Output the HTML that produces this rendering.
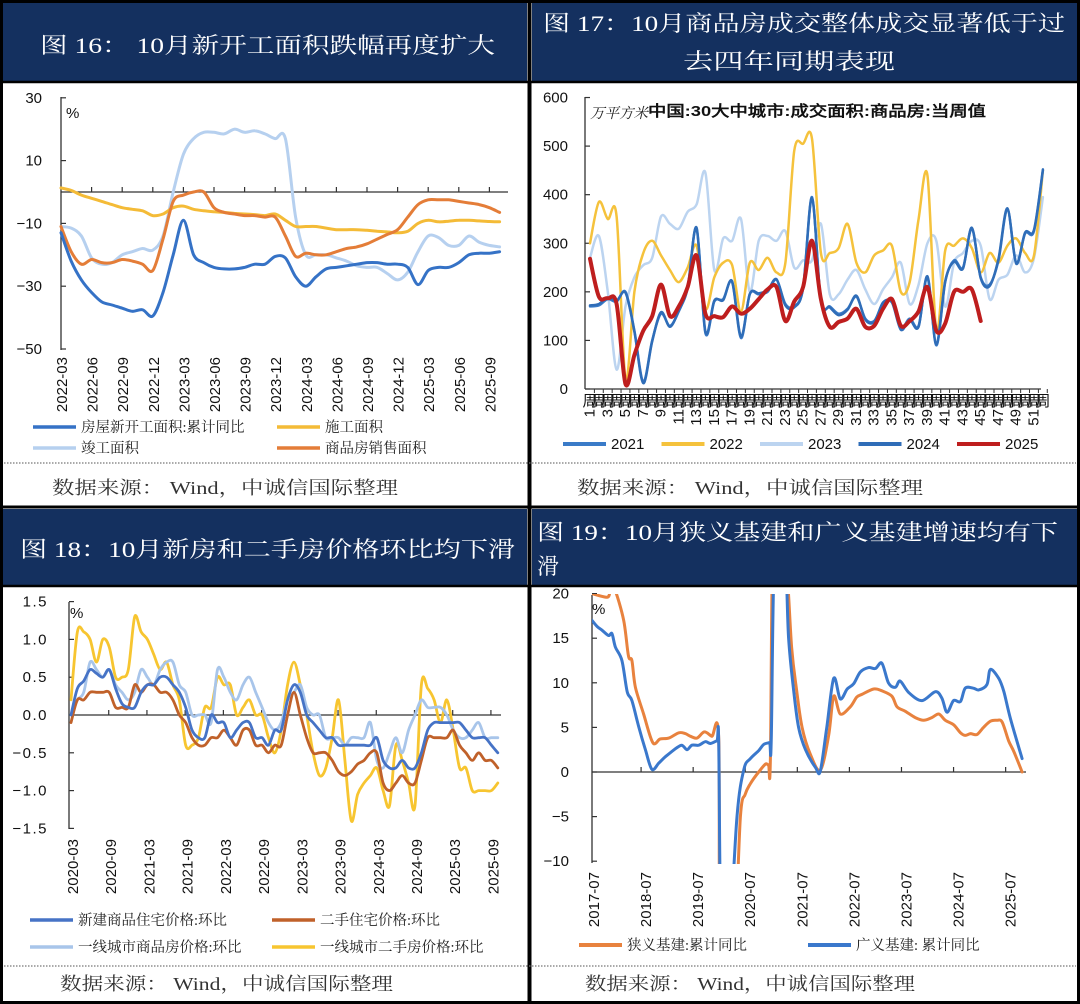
<!DOCTYPE html>
<html><head><meta charset="utf-8">
<style>
html,body{margin:0;padding:0;background:#fff;}
svg{display:block;}
.t{font-family:"Liberation Serif","Noto Serif CJK SC",serif;fill:#fff;font-size:22px;}
.ax{font-family:"Liberation Sans",sans-serif;fill:#111;font-size:15px;}
.cj{font-family:"Liberation Serif","Noto Serif CJK SC",serif;fill:#222;font-size:14.5px;}
.src{font-family:"Liberation Serif","Noto Serif CJK SC",serif;fill:#333;font-size:18px;}
</style></head>
<body>
<svg id="root" width="1080" height="1004" viewBox="0 0 1080 1004" xmlns="http://www.w3.org/2000/svg">
  <rect x="0" y="0" width="1080" height="1004" fill="#fff"/>
  <rect x="3" y="3" width="524" height="78" fill="#14305f"/>
  <rect x="532" y="3" width="545" height="78" fill="#14305f"/>
  <rect x="3" y="509" width="524" height="76" fill="#14305f"/>
  <rect x="532" y="509" width="545" height="76" fill="#14305f"/>
  <g stroke="#000">
    <rect x="1.5" y="1.5" width="1077" height="1001" fill="none" stroke-width="3"/>
    <line x1="529.5" y1="0" x2="529.5" y2="1004" stroke-width="4"/>
    <line x1="0" y1="82" x2="1080" y2="82" stroke-width="2.5"/>
    <line x1="0" y1="507" x2="1080" y2="507" stroke-width="3"/>
    <line x1="0" y1="586" x2="1080" y2="586" stroke-width="2.5"/>
  </g>
  <g stroke="#777" stroke-dasharray="1.5 1.5" stroke-width="1.2">
    <line x1="4" y1="463" x2="1076" y2="463"/>
    <line x1="4" y1="966" x2="1076" y2="966"/>
  </g>
  <text class="t" x="40" y="53" textLength="455" lengthAdjust="spacingAndGlyphs">图 16： 10月新开工面积跌幅再度扩大</text>
  <text class="t" x="543" y="31" textLength="522" lengthAdjust="spacingAndGlyphs">图 17：10月商品房成交整体成交显著低于过</text>
  <text class="t" x="683" y="69" textLength="212" lengthAdjust="spacingAndGlyphs">去四年同期表现</text>
  <text class="t" x="20" y="557" textLength="495" lengthAdjust="spacingAndGlyphs">图 18：10月新房和二手房价格环比均下滑</text>
  <text class="t" x="537" y="540" textLength="521" lengthAdjust="spacingAndGlyphs">图 19：10月狭义基建和广义基建增速均有下</text>
  <text class="t" x="537" y="574">滑</text>
  <text class="src" x="52" y="494" textLength="346" lengthAdjust="spacingAndGlyphs">数据来源：  Wind，中诚信国际整理</text>
  <text class="src" x="577" y="494" textLength="346" lengthAdjust="spacingAndGlyphs">数据来源：  Wind，中诚信国际整理</text>
  <text class="src" x="60" y="990" textLength="333" lengthAdjust="spacingAndGlyphs">数据来源：  Wind，中诚信国际整理</text>
  <text class="src" x="585" y="990" textLength="330" lengthAdjust="spacingAndGlyphs">数据来源：  Wind，中诚信国际整理</text>
  <g id="c1"></g>
  <g id="c2"></g>
  <g id="c3"></g>
  <g id="c4"></g>
  <defs>
    <clipPath id="clip4"><rect x="592" y="594" width="440" height="270"/></clipPath>
  </defs>
</svg>
<script>
var c1Ticks = [30, 10, -10, -30, -50];
var c1Dates = ["2022-03","2022-06","2022-09","2022-12","2023-03","2023-06","2023-09","2023-12","2024-03","2024-06","2024-09","2024-12","2025-03","2025-06","2025-09"];
var c1NewStarts = [-13,-22,-28,-32,-35,-36,-37,-38,-37.5,-39.5,-32,-20,-9,-20,-22.5,-24,-24.5,-24.5,-24,-23,-23,-20.5,-21,-27,-30,-27,-24.5,-24,-23.5,-23,-22.5,-22.5,-23,-23,-24,-29.5,-25,-24,-24,-22.5,-20,-19.5,-19.5,-19];
var c1UnderConstr = [1.3,0.5,-1,-2,-3,-4,-5,-5.5,-6,-7.5,-7,-5,-4.5,-5.5,-6,-6.3,-6.5,-6.8,-7,-7.2,-7.5,-7,-9,-11,-11,-11,-11.5,-12,-12,-12,-12.2,-12.5,-12.7,-13,-12.5,-10,-9,-9.5,-9.3,-9,-9,-9.2,-9.4,-9.5];
var c1Completed = [-11,-11.5,-14,-21,-23,-22.5,-20,-19,-18,-18.5,-14,0,12,17,19,19,18.5,20,19,19.5,18.5,17,17,-8,-20,-20,-20,-21,-22,-23.5,-24,-24,-26,-28,-25.5,-19,-14,-14.5,-17,-17,-14,-16,-17,-17.5];
var c1Sales = [-11,-19,-23,-21.5,-22.5,-22.5,-21.5,-22,-23,-25,-15,-3,-1,0,0,-5,-6.5,-7,-7.5,-7.5,-8,-8,-14,-20.5,-19.5,-20,-20,-19,-18,-17.5,-16.5,-15,-13.5,-12,-8,-4,-2.5,-2.5,-2.5,-3,-3.5,-4,-5,-6.5];

var c2Ticks = [0,100,200,300,400,500,600];
var c2Weeks = [];
for (var w = 1; w <= 52; w++) c2Weeks.push(w);
var c2Y2021 = [170,172,185,180,200,120,15,100,155,130,160,210,330,115,180,185,220,105,195,195,200,225,175,170,210,395,180,170,155,165,190,145,140,175,180,125,145,130,230,90,220,265,250,330,230,215,265,370,260,320,325,450];
var c2Y2022 = [300,385,350,355,20,200,280,305,275,245,220,250,295,165,230,260,255,160,260,245,270,240,260,490,505,515,280,280,290,340,260,240,275,285,295,200,220,350,440,120,285,295,310,290,240,280,260,295,310,280,275,450];
var c2Y2023 = [270,315,200,40,170,230,255,270,355,340,330,365,380,445,245,310,305,350,200,305,315,305,325,250,265,265,340,195,195,225,245,205,175,205,230,260,175,215,300,305,170,260,280,305,295,185,225,235,275,240,270,395];
var c2Y2024 = [172,175,188,182,198,118,12,98,158,128,162,208,332,118,182,183,222,108,196,197,203,226,172,168,208,393,182,168,152,163,192,143,138,178,178,122,142,128,232,92,222,262,248,332,228,212,268,372,258,322,328,452];
var c2Y2025 = [268,190,187,175,10,70,120,150,215,150,170,210,275,155,150,148,170,155,165,185,205,210,140,180,210,305,185,128,138,145,165,128,130,165,185,130,140,160,210,120,135,200,200,205,140];

var c3Ticks = [1.5,1.0,0.5,0.0,-0.5,-1.0,-1.5];
var c3Dates = ["2020-03","2020-09","2021-03","2021-09","2022-03","2022-09","2023-03","2023-09","2024-03","2024-09","2025-03","2025-09"];
var c3NewHome = [0.0,0.35,0.45,0.6,0.55,0.5,0.6,0.35,0.15,0.1,0.1,0.3,0.4,0.4,0.5,0.5,0.4,0.3,0.1,-0.2,-0.3,-0.3,0.0,-0.1,-0.1,-0.3,-0.2,-0.1,-0.1,-0.3,-0.3,-0.4,-0.2,-0.2,0.2,0.4,0.3,0.0,-0.1,-0.2,-0.3,-0.3,-0.4,-0.4,-0.4,-0.4,-0.4,-0.4,-0.3,-0.6,-0.7,-0.7,-0.6,-0.7,-0.7,-0.5,-0.2,-0.1,-0.1,-0.1,-0.1,-0.1,-0.2,-0.3,-0.3,-0.3,-0.4,-0.5];
var c3Resale = [-0.1,0.2,0.2,0.3,0.3,0.3,0.3,0.1,0.1,0.1,0.4,0.3,0.4,0.4,0.3,0.3,0.2,0.0,-0.1,-0.3,-0.4,-0.4,-0.3,-0.3,-0.2,-0.3,-0.4,-0.2,-0.2,-0.4,-0.4,-0.5,-0.4,-0.4,0.0,0.3,0.0,-0.3,-0.5,-0.5,-0.5,-0.6,-0.75,-0.8,-0.75,-0.65,-0.6,-0.5,-0.5,-0.9,-1.0,-0.9,-0.8,-0.9,-0.9,-0.6,-0.3,-0.3,-0.3,-0.3,-0.2,-0.4,-0.5,-0.6,-0.5,-0.6,-0.6,-0.7];
var c3Tier1New = [0.0,0.2,0.3,0.7,0.6,0.5,0.6,0.4,0.3,0.2,0.3,0.6,0.5,0.4,0.6,0.7,0.7,0.4,0.3,0.0,0.0,0.0,-0.1,0.6,0.5,0.3,0.2,0.4,0.5,0.3,0.1,-0.1,-0.2,-0.1,0.2,0.3,0.4,0.1,0.0,0.0,-0.3,-0.3,-0.3,-0.4,-0.3,-0.3,-0.3,-0.1,-0.6,-0.7,-0.5,-0.3,-0.5,-0.2,0.0,0.2,0.1,0.1,0.1,0.0,-0.2,-0.3,-0.3,-0.2,-0.1,-0.3,-0.3,-0.3];
var c3Tier1Resale = [0.2,1.1,1.1,1.0,0.7,1.0,0.9,0.5,0.5,0.6,1.3,1.1,1.0,0.8,0.6,0.7,0.4,0.2,-0.4,-0.4,-0.3,0.1,0.1,0.5,0.4,0.4,0.0,0.1,0.2,0.0,0.0,-0.3,-0.5,-0.2,0.4,0.7,0.4,0.0,-0.5,-0.8,-0.7,-0.3,0.2,-0.6,-1.4,-1.05,-0.9,-0.8,-0.7,-1.0,-1.2,-0.4,-0.6,-0.9,-1.2,0.4,0.35,0.2,-0.1,0.2,-0.2,-0.7,-0.7,-1.0,-1.0,-1.0,-1.0,-0.9];

var c4Ticks = [20,15,10,5,0,-5,-10];
var c4Dates = ["2017-07","2018-07","2019-07","2020-07","2021-07","2022-07","2023-07","2024-07","2025-07"];
var c4NarrowMonths = [0,3.5,4.2,5.2,7.3,8.4,9.2,10,11.9,14,15.7,17.7,20,21.5,22.7,24.2,25.9,27.6,29.2,29.6,32.6,34.2,35.3,36.5,38.4,40,40.7,41.1,41.9,44.5,46,47.2,48.4,50.3,52.6,54.5,55.7,57.2,59.5,61,62.2,64.9,66.8,69.1,70.3,72.2,74.5,76.4,78.3,79.9,81.4,83.3,84.9,86,87.2,88.7,90.2,91.8,93.3,94.5,96,97.2,99.1];
var c4Narrow = [20,19.6,20.2,20.5,17,13,12.5,9.5,6.5,3.3,3.7,3.8,4.4,4.3,4.0,3.8,4.5,4.0,3.8,-20,-20,-5,-2.5,-1.3,0,0.9,0.8,1.5,30,25,14,9,5,2,0.2,4,8.5,6.5,7.3,8.4,8.7,9.3,9.1,8.5,7.3,6.8,6.1,5.8,6.1,6.5,5.8,5.3,4.4,4.1,4.3,4.2,5.0,5.7,5.8,5.6,3.5,2.3,0];
var c4BroadMonths = [0,1.2,2.3,3.8,4.6,5.4,6.9,8.1,9.2,10.8,12.3,13.8,15.4,16.9,19.2,20.7,21.9,23,24.6,26.1,27.3,28.8,29.2,29.8,31.5,33.4,35,36.5,38.4,39.6,40.9,41.3,42.1,44.4,45.3,46.5,47.6,49.2,51.5,52.6,54.1,55.7,57.2,58.8,60.3,61.8,63.7,65.3,66.8,68.3,69.9,71,73,76,79.1,80.6,81.8,83.3,84.9,86,87.9,89.1,91,91.8,93.7,94.9,96.4,99.1];
var c4Broad = [17,16.3,15.9,15.3,15.5,14,12.5,9,8,5,2.5,0.3,1,1.7,2.6,3.0,2.5,3.0,3.0,3.4,3.2,3.5,3.4,-20,-20,-5,0.3,1.5,2.4,3.1,3.3,3.4,25,25,15,9,5,2.5,0.5,0.1,5,10.5,8.2,9.3,9.9,11.2,11.7,11.6,12.2,10,9.5,10.2,8.9,8.0,9.0,8.3,6.7,8.0,7.9,9.4,9.4,9.2,9.8,11.5,10.5,9,6,1.5];

var NS = "http://www.w3.org/2000/svg";
function mk(parent, tag, attrs) {
  var el = document.createElementNS(NS, tag);
  for (var k in attrs) el.setAttribute(k, attrs[k]);
  parent.appendChild(el);
  return el;
}
function smoothPath(pts) {
  var d = "M" + pts[0][0].toFixed(1) + "," + pts[0][1].toFixed(1);
  for (var i = 0; i < pts.length - 1; i++) {
    var p0 = pts[i - 1] || pts[i], p1 = pts[i], p2 = pts[i + 1], p3 = pts[i + 2] || p2;
    var t = 0.16;
    var c1x = p1[0] + (p2[0] - p0[0]) * t, c1y = p1[1] + (p2[1] - p0[1]) * t;
    var c2x = p2[0] - (p3[0] - p1[0]) * t, c2y = p2[1] - (p3[1] - p1[1]) * t;
    d += "C" + c1x.toFixed(1) + "," + c1y.toFixed(1) + " " + c2x.toFixed(1) + "," + c2y.toFixed(1) + " " + p2[0].toFixed(1) + "," + p2[1].toFixed(1);
  }
  return d;
}
function series(parent, xs, vals, xf, yf, color, width, name) {
  var pts = [];
  for (var i = 0; i < vals.length; i++) pts.push([xf(xs[i]), yf(vals[i])]);
  var p = mk(parent, "path", {d: smoothPath(pts), fill: "none", stroke: color, "stroke-width": width, "stroke-linejoin": "round", "stroke-linecap": "round"});
  
  
  return p;
}
function txt(parent, x, y, s, cls, extra, name) {
  var t = mk(parent, "text", extra || {});
  t.setAttribute("x", x); t.setAttribute("y", y);
  t.setAttribute("class", cls);
  t.textContent = s;
  
  
  return t;
}
function ln(parent, x1, y1, x2, y2, color, w, name) {
  var l = mk(parent, "line", {x1: x1, y1: y1, x2: x2, y2: y2, stroke: color, "stroke-width": w});
  
  
  return l;
}
function legend(parent, x, y, color, w, label, cls, name) {
  ln(parent, x, y, x + 43, y, color, w, name + "-swatch");
  txt(parent, x + 48, y + 5, label, cls, {}, name + "-label");
}
function idx(n) { var a = []; for (var i = 0; i < n; i++) a.push(i); return a; }

(function () {
  var g = document.getElementById("c1");
  var X = function (i) { return 61 + i * 10.2; };
  var Y = function (v) { return 192 - v * 3.14; };
  ln(g, 61, 97, 61, 350, "#333", 1.3, "y-axis");
  c1Ticks.forEach(function (v) {
    ln(g, 61, Y(v), 66, Y(v), "#333", 1.2, "y-tick");
    txt(g, 42, Y(v) + 5, String(v).replace("-", "−"), "ax", {"text-anchor": "end"}, "y-tick-label");
  });
  ln(g, 61, Y(0), 508, Y(0), "#333", 1.3, "zero-line");
  for (var i = 3; i <= 43; i += 3) ln(g, X(i), Y(0), X(i), Y(0) - 5, "#333", 1.2, "x-tick");
  c1Dates.forEach(function (d, k) {
    var x = X(k * 3) + 6;
    txt(g, 0, 0, d, "ax", {"text-anchor": "end", transform: "translate(" + x + ",357) rotate(-90)", "font-size": "14"}, "x-tick-label");
  });
  txt(g, 66, 118, "%", "ax", {"font-size": "17"}, "y-unit-label");
  series(g, idx(c1Completed.length), c1Completed, X, Y, "#b6d0ef", 3, "line-completed-area");
  series(g, idx(c1UnderConstr.length), c1UnderConstr, X, Y, "#f4bb37", 3, "line-under-construction");
  series(g, idx(c1Sales.length), c1Sales, X, Y, "#e47d38", 3, "line-sales-area");
  series(g, idx(c1NewStarts.length), c1NewStarts, X, Y, "#3572c6", 3, "line-new-starts");
  legend(g, 33, 427, "#3572c6", 3.5, "房屋新开工面积:累计同比", "cj", "legend-new-starts");
  legend(g, 277, 427, "#f4bb37", 3.5, "施工面积", "cj", "legend-under-construction");
  legend(g, 33, 448, "#b6d0ef", 3.5, "竣工面积", "cj", "legend-completed-area");
  legend(g, 277, 448, "#e47d38", 3.5, "商品房销售面积", "cj", "legend-sales-area");
})();

(function () {
  var g = document.getElementById("c2");
  var X = function (w) { return 590 + (w - 1) * 8.88; };
  var Y = function (v) { return 389 - v * 0.4858; };
  ln(g, 585, 97, 585, 389, "#333", 1.3, "y-axis");
  ln(g, 585, 389, 1041, 389, "#333", 1.3, "x-axis");
  c2Ticks.forEach(function (v) {
    ln(g, 585, Y(v), 590, Y(v), "#333", 1.2, "y-tick");
    txt(g, 568, Y(v) + 5, String(v), "ax", {"text-anchor": "end"}, "y-tick-label");
  });
  c2Weeks.forEach(function (w) {
    ln(g, X(w) + 4.4, 389, X(w) + 4.4, 393, "#333", 1, "x-tick");
    txt(g, X(w), 406, "周", "ax", {"text-anchor": "middle", "font-size": "10", "font-family": "Noto Sans CJK SC, sans-serif"}, "x-tick-label-unit");
    if (w % 2 === 1) {
      txt(g, 0, 0, String(w), "ax", {"text-anchor": "end", transform: "translate(" + (X(w) + 4.5) + ",409) rotate(-90)", "font-size": "13"}, "x-tick-label");
    }
  });
  txt(g, 590, 118, "万平方米", "cj", {"font-size": "11", "fill": "#444", "font-style": "italic"}, "y-unit-label");
  txt(g, 648, 116, "中国:30大中城市:成交面积:商品房:当周值", "ax", {"font-size": "15", "font-weight": "bold", "font-family": "Liberation Sans, Noto Sans CJK SC, sans-serif", textLength: "338", lengthAdjust: "spacingAndGlyphs"}, "series-title");
  series(g, c2Weeks, c2Y2023, X, Y, "#bcd4f0", 2.5, "line-2023");
  series(g, c2Weeks, c2Y2022, X, Y, "#f5c23c", 2.5, "line-2022");
  series(g, c2Weeks, c2Y2021, X, Y, "#3a7bc8", 2.5, "line-2021");
  series(g, c2Weeks, c2Y2024, X, Y, "#2f6db8", 2.5, "line-2024");
  series(g, c2Weeks.slice(0, c2Y2025.length), c2Y2025, X, Y, "#be1e1e", 4, "line-2025");
  var leg = [["2021", "#3a7bc8"], ["2022", "#f5c23c"], ["2023", "#bcd4f0"], ["2024", "#2f6db8"], ["2025", "#be1e1e"]];
  leg.forEach(function (l, k) {
    legend(g, 563 + k * 98.5, 444, l[1], 4, l[0], "ax", "legend-" + l[0]);
  });
})();

(function () {
  var g = document.getElementById("c3");
  var X = function (j) { return 71 + j * 6.37; };
  var Y = function (v) { return 715 - v * 75.6; };
  ln(g, 69, 602, 69, 829, "#333", 1.3, "y-axis");
  c3Ticks.forEach(function (v) {
    ln(g, 69, Y(v), 74, Y(v), "#333", 1.2, "y-tick");
    txt(g, 48, Y(v) + 5, v.toFixed(1).replace("-", "−"), "ax", {"text-anchor": "end", "letter-spacing": "1.5"}, "y-tick-label");
  });
  ln(g, 69, Y(0), 501, Y(0), "#333", 1.3, "zero-line");
  for (var j = 6; j <= 66; j += 6) ln(g, X(j) - 0.5, Y(0), X(j) - 0.5, Y(0) - 5, "#333", 1.2, "x-tick");
  c3Dates.forEach(function (d, k) {
    txt(g, 0, 0, d, "ax", {"text-anchor": "end", transform: "translate(" + (X(k * 6) + 7) + ",839) rotate(-90)", "font-size": "14"}, "x-tick-label");
  });
  txt(g, 70, 618, "%", "ax", {"font-size": "14"}, "y-unit-label");
  series(g, idx(c3Tier1Resale.length), c3Tier1Resale, X, Y, "#f7c530", 2.8, "line-tier1-resale");
  series(g, idx(c3Tier1New.length), c3Tier1New, X, Y, "#a8c5ea", 2.8, "line-tier1-new");
  series(g, idx(c3Resale.length), c3Resale, X, Y, "#c0612a", 2.8, "line-resale");
  series(g, idx(c3NewHome.length), c3NewHome, X, Y, "#4673c6", 2.8, "line-new-home");
  legend(g, 30, 920, "#4673c6", 3.5, "新建商品住宅价格:环比", "cj", "legend-new-home");
  legend(g, 272, 920, "#c0612a", 3.5, "二手住宅价格:环比", "cj", "legend-resale");
  legend(g, 30, 947, "#a8c5ea", 3.5, "一线城市商品房价格:环比", "cj", "legend-tier1-new");
  legend(g, 272, 947, "#f7c530", 3.5, "一线城市二手房价格:环比", "cj", "legend-tier1-resale");
})();

(function () {
  var g = document.getElementById("c4");
  var X = function (m) { return 592 + m * 4.34; };
  var Y = function (v) { return 772 - v * 8.92; };
  ln(g, 592, 595, 592, 863, "#333", 1.3, "y-axis");
  c4Ticks.forEach(function (v) {
    ln(g, 592, Y(v), 597, Y(v), "#333", 1.2, "y-tick");
    txt(g, 569, Y(v) + 5, String(v).replace("-", "−"), "ax", {"text-anchor": "end"}, "y-tick-label");
  });
  ln(g, 592, Y(0), 1026, Y(0), "#333", 1.3, "zero-line");
  c4Dates.forEach(function (d, k) {
    if (k * 12 + 12 <= 100) ln(g, X(k * 12 + 12) - 3, Y(0), X(k * 12 + 12) - 3, Y(0) - 5, "#333", 1.2, "x-tick");
    txt(g, 0, 0, d, "ax", {"text-anchor": "end", transform: "translate(" + (X(k * 12) + 7) + ",872) rotate(-90)", "font-size": "14"}, "x-tick-label");
  });
  txt(g, 592, 614, "%", "ax", {"font-size": "19"}, "y-unit-label");
  var cg = mk(g, "g", {"clip-path": "url(#clip4)"});
  
  
  series(cg, c4NarrowMonths, c4Narrow, X, Y, "#e8823e", 3, "line-narrow-infra");
  series(cg, c4BroadMonths, c4Broad, X, Y, "#3a78cc", 3, "line-broad-infra");
  legend(g, 579, 945, "#e8823e", 4, "狭义基建:累计同比", "cj", "legend-narrow-infra");
  legend(g, 808, 945, "#3a78cc", 4, "广义基建: 累计同比", "cj", "legend-broad-infra");
})();
</script>
</body></html>
